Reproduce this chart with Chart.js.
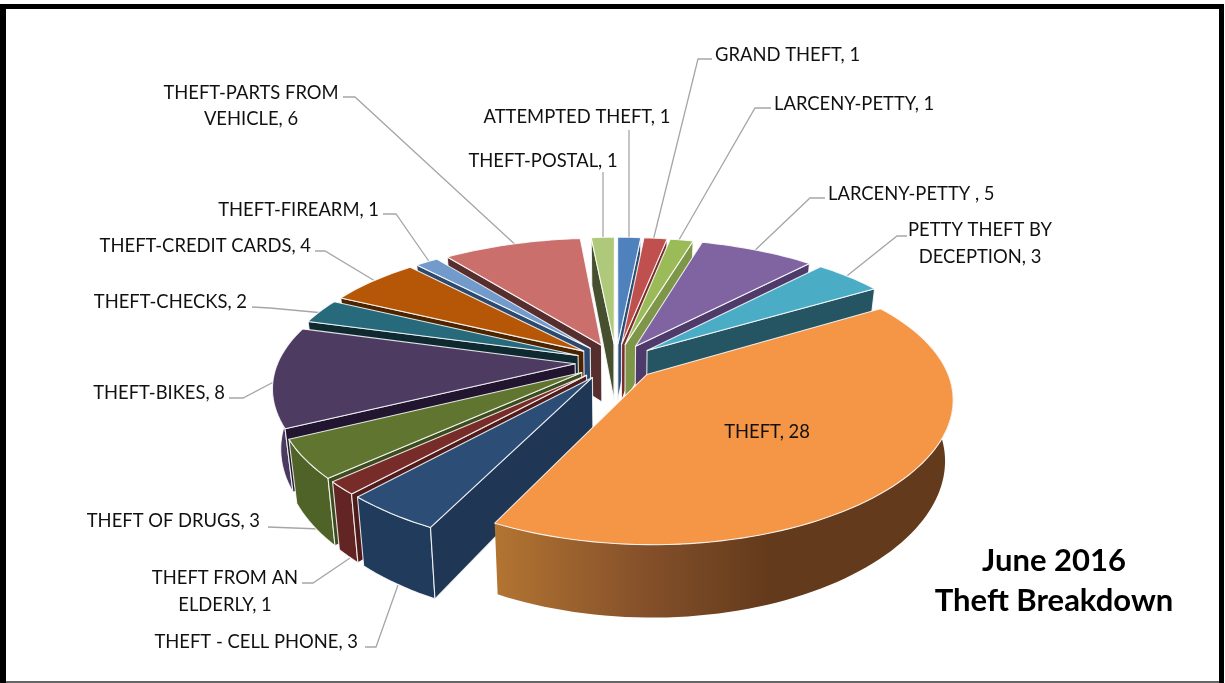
<!DOCTYPE html>
<html><head><meta charset="utf-8">
<style>html,body{margin:0;padding:0;background:#fff;overflow:hidden}canvas{display:block}</style>
<script src="https://cdn.jsdelivr.net/npm/chart.js@4"></script>
</head><body><canvas id="c" width="1225" height="683"></canvas>
<script>
// ---- data ----
const categories = ["ATTEMPTED THEFT","GRAND THEFT","LARCENY-PETTY","LARCENY-PETTY ","PETTY THEFT BY DECEPTION","THEFT","THEFT - CELL PHONE","THEFT FROM AN ELDERLY","THEFT OF DRUGS","THEFT-BIKES","THEFT-CHECKS","THEFT-CREDIT CARDS","THEFT-FIREARM","THEFT-PARTS FROM VEHICLE","THEFT-POSTAL"];
const values = [1,1,1,5,3,28,3,1,3,8,2,4,1,6,1];
// ---- styles ----
const topColors = ["#4f81bd","#c0504d","#9bbb59","#8064a2","#4bacc6","#f59546","#2c4d75","#772c2a","#5f7530","#4d3b62","#276a7c","#b65708","#729aca","#cb6f6d","#afc97a"];
const sideColors = ["#2c4d75","#7a2e2c","#7d9647","#4f3b6a","#255563","#633a1b","#1f3654","#4f1c1b","#3c4c1e","#211530","#0e2a30","#4c2500","#2c4a6f","#552e2d","#46502f"];
const rimColors = ["#2c4d75","#7a2e2c","#7d9647","#4f3b6a","#255563","#633a1b","#213b5c","#632523","#4f6228","#4a3a60","#174550","#7a3a05","#45648c","#88494a","#6e7f4c"];
const TITLE_LINES = ["June 2016","Theft Breakdown"];
// label layout: index, lines (break index by words), x, y, align; leader polyline
const labelLayout = [
 {i:0,x:577,y:117,a:"center",lead:[[629,130],[629,245]]},
 {i:1,x:715,y:55,a:"left",lead:[[712,59],[698,59],[652,245]]},
 {i:2,x:774,y:104,a:"left",lead:[[771,108],[755,108],[676,245]]},
 {i:3,x:828,y:194,a:"left",lead:[[825,198],[810,198],[750,255]]},
 {i:4,x:980,y:230,a:"center",brk:3,lh:27,lead:[[907,236],[897,236],[838,283]]},
 {i:5,x:767,y:432,a:"center",lead:[]},
 {i:6,x:358,y:642,a:"right",lead:[[365,647],[376,647],[398,585]]},
 {i:7,x:225,y:578,a:"center",brk:3,lh:27,lead:[[302,583],[313,583],[350,558]]},
 {i:8,x:260,y:521,a:"right",lead:[[268,527],[320,529]]},
 {i:9,x:225,y:393,a:"right",lead:[[229,398],[243,398],[285,376]]},
 {i:10,x:247,y:302,a:"right",lead:[[252,307],[270,308],[335,314]]},
 {i:11,x:311,y:246,a:"right",lead:[[315,251],[325,251],[385,287]]},
 {i:12,x:379,y:210,a:"right",lead:[[383,214],[396,214],[435,270]]},
 {i:13,x:251,y:93,a:"center",brk:2,lh:26,lead:[[343,97],[355,97],[520,249]]},
 {i:14,x:543,y:161,a:"center",lead:[[603,172],[603,245]]}
];
// 3D view
const VIEW = {cx:616, cy:362, rx:297, ry:133, p:0.187, px:0.16, depth:58, k:0.976};
function project(u,v,low){
  const w = 1/(1-VIEW.p*v), wx = 1/(1-VIEW.px*v);
  return [VIEW.cx+VIEW.rx*u*wx*(low?VIEW.k:1), VIEW.cy+VIEW.ry*v*w+(low?VIEW.depth*w:0)];
}
function trace(ctx,pts){ctx.beginPath();pts.forEach((p,j)=>j?ctx.lineTo(p[0],p[1]):ctx.moveTo(p[0],p[1]));ctx.closePath();}
const pie3d = {
  id:"pie3d",
  beforeDatasetsDraw(chart){
    const ctx = chart.ctx, meta = chart.getDatasetMeta(0);
    // leaders sit behind the pie
    ctx.strokeStyle="#a6a6a6";ctx.lineWidth=1.3;
    labelLayout.forEach(l=>{
      if(!l.lead.length)return;
      ctx.beginPath();l.lead.forEach((p,j)=>j?ctx.lineTo(p[0],p[1]):ctx.moveTo(p[0],p[1]));ctx.stroke();
    });
    const slices = meta.data.map((el,i)=>{
      const {startAngle:s,endAngle:e,outerRadius:R} = el.getProps(["startAngle","endAngle","outerRadius"],true);
      const off = (el.options.offset||0)/R, mid=(s+e)/2;
      const ou = off*Math.cos(mid), ov = off*Math.sin(mid);
      const n = Math.max(3,Math.ceil((e-s)/0.03));
      const rim=[], front=[];
      for(let j=0;j<=n;j++){
        const t=s+(e-s)*j/n, pt=[ou+Math.cos(t),ov+Math.sin(t)];
        rim.push(pt);
        if(Math.sin(t)>-0.12)front.push(pt);
      }
      return {i,el,ou,ov,rim,front,maxV:Math.max(...rim.map(r=>r[1])),color:el.options.backgroundColor};
    });
    const stroke = el=>{ctx.strokeStyle=el.options.borderColor;ctx.lineWidth=el.options.borderWidth;ctx.lineJoin="round";ctx.stroke();};
    const order = slices.slice().sort((a,b)=>a.maxV-b.maxV);
    // walls
    order.forEach(sl=>{
      const a=project(sl.ou,sl.ov), al=project(sl.ou,sl.ov,true);
      const first=sl.rim[0], last=sl.rim[sl.rim.length-1];
      const pf=project(first[0],first[1]), pl=project(last[0],last[1]);
      if(sl.front.length>1){
        const up=sl.front.map(r=>project(r[0],r[1])), lo=sl.front.map(r=>project(r[0],r[1],true)).reverse();
        trace(ctx,up.concat(lo));
        if(sl.i===5){
          const g=ctx.createLinearGradient(493,0,770,0);
          g.addColorStop(0,"#b47532");g.addColorStop(.55,"#84502a");g.addColorStop(1,rimColors[sl.i]);
          ctx.fillStyle=g;ctx.fill();
        } else {ctx.fillStyle=rimColors[sl.i];ctx.fill();stroke(sl.el);}
      }
      if(pf[0]<a[0]){trace(ctx,[a,pf,project(first[0],first[1],true),al]);ctx.fillStyle=sideColors[sl.i];ctx.fill();stroke(sl.el);}
      if(pl[0]>a[0]){trace(ctx,[a,pl,project(last[0],last[1],true),al]);ctx.fillStyle=sideColors[sl.i];ctx.fill();stroke(sl.el);}
    });
    // top faces
    order.forEach(sl=>{
      const pts=[project(sl.ou,sl.ov)].concat(sl.rim.map(r=>project(r[0],r[1])));
      trace(ctx,pts);ctx.fillStyle=sl.color;ctx.fill();stroke(sl.el);
    });
    return false;
  },
  afterDraw(chart){
    const ctx=chart.ctx;
    ctx.fillStyle="#111";ctx.font='18.4px Lato';ctx.textBaseline="middle";
    labelLayout.forEach(l=>{
      ctx.textAlign=l.a;
      const txt=categories[l.i]+", "+values[l.i];
      if(l.brk){
        const w=txt.split(" ");
        ctx.fillText(w.slice(0,l.brk).join(" "),l.x,l.y);
        ctx.fillText(w.slice(l.brk).join(" "),l.x,l.y+l.lh);
      } else ctx.fillText(txt,l.x,l.y);
    });
    ctx.font='bold 31px Lato';ctx.textAlign="center";ctx.fillStyle="#000";
    ctx.fillText(TITLE_LINES[0],1054,561);ctx.fillText(TITLE_LINES[1],1054,601);
    // frame
    ctx.fillStyle="#000";
    ctx.fillRect(0,4,1224,5);ctx.fillRect(0,4,6,679);ctx.fillRect(1219,4,5,679);
    ctx.fillStyle="#666";ctx.fillRect(6,681,1213,2);
  }
};
new Chart(document.getElementById("c"),{
  type:"pie",
  data:{labels:categories,datasets:[{data:values,backgroundColor:topColors,borderColor:"rgba(255,255,255,0.85)",borderWidth:1.1,offset:44}]},
  options:{responsive:false,animation:false,layout:{padding:0},
    plugins:{legend:{display:false},tooltip:{enabled:false},title:{display:false}}},
  plugins:[pie3d]
});
</script></body></html>
